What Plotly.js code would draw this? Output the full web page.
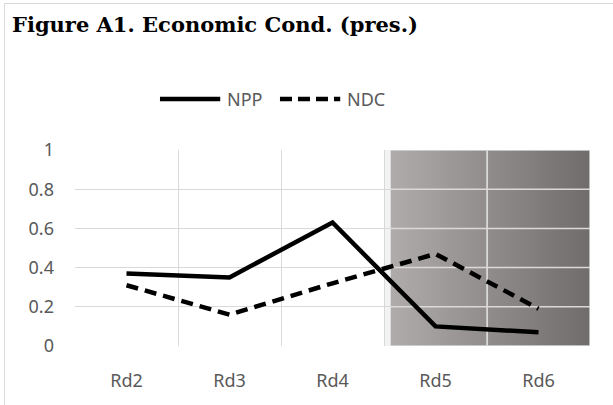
<!DOCTYPE html>
<html>
<head>
<meta charset="utf-8">
<script src="https://cdn.plot.ly/plotly-3.0.1.min.js"></script>
<style>
  html, body { margin: 0; padding: 0; background: #fff; }
  #wrap { position: relative; width: 613px; height: 405px; }
  #chart { width: 613px; height: 405px; }
  #frame { position: absolute; left: 4px; top: 3px; width: 620px; height: 420px;
           border: 1px solid #d9d9d9; pointer-events: none; box-sizing: border-box; }
</style>
</head>
<body>
<div id="wrap">
  <div id="chart"></div>
  <div id="frame"></div>
</div>
<script>
// ---- data ----
const rounds = ["Rd2", "Rd3", "Rd4", "Rd5", "Rd6"];
const npp = [0.37, 0.35, 0.63, 0.10, 0.07];
const ndc = [0.31, 0.16, 0.32, 0.47, 0.19];
const yTicks = [0, 0.2, 0.4, 0.6, 0.8, 1];
const yTickText = ["0", "0.2", "0.4", "0.6", "0.8", "1"];
const seriesNames = ["NPP", "NDC"];

// ---- shaded (gradient) background for the later rounds ----
const shadeStart = 2.565, shadeEnd = 4.5;
const cL = [176, 172, 171], cR = [112, 108, 107];
const nStripes = 60;
const shapes = [];
shapes.push({type: "rect", xref: "x", yref: "y", layer: "below",
  x0: 2.5, x1: shadeStart + 0.01, y0: 0, y1: 1, line: {width: 0}, fillcolor: "#f2f2f2"});
const w = (shadeEnd - shadeStart) / nStripes;
for (let i = 0; i < nStripes; i++) {
  const t = (i + 0.5) / nStripes;
  const c = cL.map((v, k) => Math.round(v + (cR[k] - v) * t));
  shapes.push({type: "rect", xref: "x", yref: "y", layer: "below",
    x0: shadeStart + i * w, x1: Math.min(shadeEnd, shadeStart + (i + 2) * w), y0: 0, y1: 1,
    line: {width: 0}, fillcolor: `rgb(${c[0]},${c[1]},${c[2]})`});
}
// gridlines re-drawn over the shaded panel
yTicks.forEach(v => shapes.push({type: "line", xref: "x", yref: "y", layer: "between",
  x0: shadeStart, x1: shadeEnd, y0: v, y1: v, line: {color: "#d9d9d9", width: 1.5}}));
[3.5, 4.5].forEach(v => shapes.push({type: "line", xref: "x", yref: "y", layer: "between",
  x0: v, x1: v, y0: 0, y1: 1, line: {color: "#d9d9d9", width: 1.5}}));

// ---- manual legend glyphs (paper coords) ----
const legY = 1.26;
shapes.push({type: "line", xref: "paper", yref: "paper", x0: 0.165, x1: 0.282, y0: legY, y1: legY,
  line: {color: "#000", width: 4.5}});
shapes.push({type: "line", xref: "paper", yref: "paper", x0: 0.398, x1: 0.515, y0: legY, y1: legY,
  line: {color: "#000", width: 4.5, dash: "12px,6px"}});

const tickFont = {family: "Noto Sans, Liberation Sans, sans-serif", size: 18, color: "#595959"};

const traces = [
  {type: "scatter", mode: "lines", name: seriesNames[0], x: rounds, y: npp,
   line: {color: "#000000", width: 4.5}},
  {type: "scatter", mode: "lines", name: seriesNames[1], x: rounds, y: ndc,
   line: {color: "#000000", width: 4.5, dash: "12px,7px"}}
];

const layout = {
  width: 613, height: 405,
  margin: {l: 75, r: 23, t: 150, b: 59, pad: 0},
  paper_bgcolor: "#ffffff", plot_bgcolor: "#ffffff",
  title: {text: "<b>Figure A1. Economic Cond. (pres.)</b>",
          font: {family: "DejaVu Serif, serif", size: 21, color: "#000"},
          xref: "container", yref: "container", x: 12/613, xanchor: "left",
          y: 1 - 17/405, yanchor: "top"},
  showlegend: false,
  annotations: [
    {xref: "paper", yref: "paper", x: 0.291, y: legY, xanchor: "left", yanchor: "middle",
     text: seriesNames[0], showarrow: false, font: tickFont},
    {xref: "paper", yref: "paper", x: 0.524, y: legY, xanchor: "left", yanchor: "middle",
     text: seriesNames[1], showarrow: false, font: tickFont}
  ],
  xaxis: {type: "category", tickson: "boundaries", showgrid: true, gridcolor: "#d9d9d9",
          gridwidth: 1, ticks: "", tickfont: tickFont, showline: false, zeroline: false,
          range: [-0.5, 4.5], ticklabelstandoff: 22, fixedrange: true},
  yaxis: {range: [0, 1], tickvals: yTicks, ticktext: yTickText, showgrid: true,
          gridcolor: "#d9d9d9", gridwidth: 1, ticks: "", tickfont: tickFont,
          zeroline: false, showline: false, ticklabelstandoff: 20, fixedrange: true},
  shapes: shapes
};

Plotly.newPlot("chart", traces, layout, {displayModeBar: false, staticPlot: true});
</script>
</body>
</html>
